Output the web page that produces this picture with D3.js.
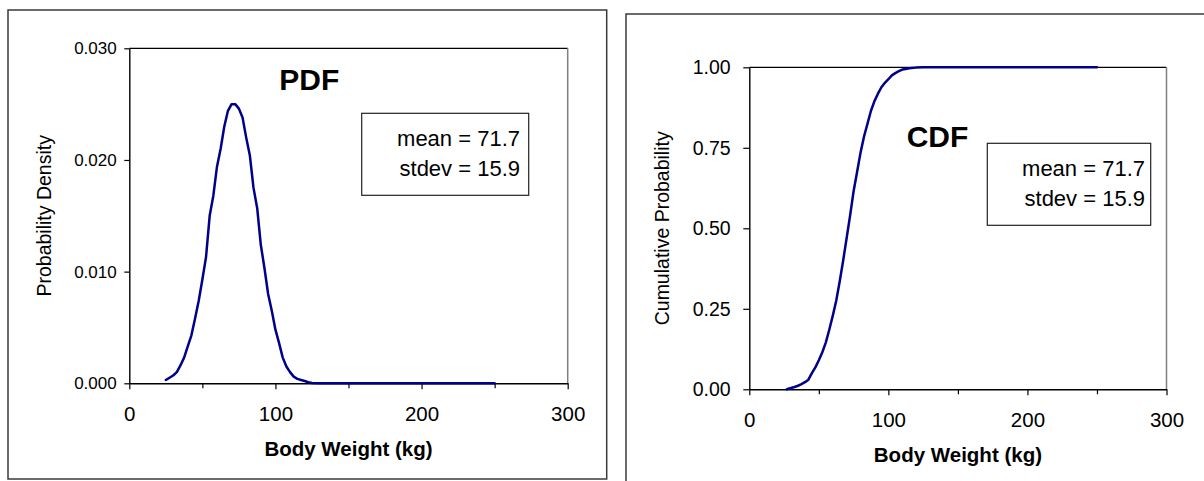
<!DOCTYPE html>
<html>
<head>
<meta charset="utf-8">
<script src="https://cdn.jsdelivr.net/npm/d3@7"></script>
<style>
  html, body { margin: 0; padding: 0; background: #fff; }
  svg { display: block; }
  text { font-family: "Liberation Sans", Arial, sans-serif; fill: #000; }
</style>
</head>
<body>
<svg id="chart" width="1204" height="481"></svg>
<script>
// ---------------- data ----------------
const pdfWeights = [25, 27.5, 30, 32.5, 35, 37.5, 40, 42.5, 45, 47.5, 50, 52.5, 55, 57.5, 60, 62.5, 65, 67.5, 70, 72.5, 75, 77.5, 80, 82.5, 85, 87.5, 90, 92.5, 95, 97.5, 100, 102.5, 105, 107.5, 110, 112.5, 115, 117.5, 120, 122.5, 125, 130, 150, 200, 250];
const pdfDensity = [0.0003, 0.0005, 0.0007, 0.0010, 0.0016, 0.0023, 0.0033, 0.0043, 0.0058, 0.0074, 0.0093, 0.0113, 0.0150, 0.0168, 0.0194, 0.0210, 0.0230, 0.0244, 0.0250, 0.0250, 0.0246, 0.0238, 0.0220, 0.0204, 0.0175, 0.0157, 0.0124, 0.0103, 0.0080, 0.0065, 0.0048, 0.0036, 0.0023, 0.0015, 0.0010, 0.0006, 0.0004, 0.0003, 0.0002, 0.0001, 0.00003, 0, 0, 0, 0];

const cdfWeights = [27, 30, 32.5, 35, 37.5, 40, 42.5, 45, 47.5, 50, 52.5, 55, 57.5, 60, 62.5, 65, 67.5, 70, 72.5, 75, 77.5, 80, 82.5, 85, 87.5, 90, 92.5, 95, 97.5, 100, 102.5, 105, 107.5, 110, 112.5, 115, 120, 125, 150, 200, 250];
const cdfProb = [0.000, 0.004, 0.007, 0.011, 0.016, 0.022, 0.030, 0.050, 0.068, 0.090, 0.115, 0.145, 0.185, 0.228, 0.275, 0.335, 0.400, 0.470, 0.540, 0.615, 0.675, 0.735, 0.785, 0.825, 0.865, 0.895, 0.918, 0.938, 0.952, 0.963, 0.975, 0.982, 0.988, 0.993, 0.995, 0.997, 0.999, 1.000, 1.000, 1.000, 1.000];

const xMajorTicks = [0, 100, 200, 300];
const xMinorTicks = [50, 150, 250];
const pdfYTicks = [0, 0.010, 0.020, 0.030];
const cdfYTicks = [0, 0.25, 0.50, 0.75, 1.00];
const statLabels = ["mean = 71.7", "stdev = 15.9"];
const xTitle = "Body Weight (kg)";

// ---------------- drawing ----------------
const svg = d3.select("#chart");
svg.append("rect").attr("width", 1204).attr("height", 481).attr("fill", "#fff");

const lineColor = "#00008b";

function panel(cfg) {
  const g = svg.append("g");
  // outer chart border
  g.append("path").attr("d", cfg.border)
    .attr("fill", "none").attr("stroke", "#3a3a3a").attr("stroke-width", 1.5);

  const x = d3.scaleLinear().domain([0, 300]).range([cfg.left, cfg.right]);
  const y = d3.scaleLinear().domain(cfg.yDomain).range([cfg.bottom, cfg.top]);

  // plot area frame: top black, right gray
  g.append("line").attr("x1", cfg.left).attr("x2", cfg.right).attr("y1", cfg.top).attr("y2", cfg.top)
    .attr("stroke", "#000").attr("stroke-width", 1.2);
  g.append("line").attr("x1", cfg.right).attr("x2", cfg.right).attr("y1", cfg.top).attr("y2", cfg.bottom)
    .attr("stroke", "#808080").attr("stroke-width", 1.5);

  // minor x ticks
  g.append("g").attr("transform", `translate(0,${cfg.bottom})`)
    .call(d3.axisBottom(x).tickValues(xMinorTicks).tickSize(5).tickSizeOuter(0).tickFormat(""))
    .call(s => s.select(".domain").remove())
    .call(s => s.selectAll("line").attr("stroke", "#000").attr("stroke-width", 1.2));

  // major x axis
  const xa = g.append("g").attr("transform", `translate(0,${cfg.bottom})`)
    .call(d3.axisBottom(x).tickValues(xMajorTicks).tickSize(6).tickSizeOuter(0).tickFormat(d3.format("d")));
  xa.select(".domain").attr("stroke", "#000").attr("stroke-width", 1.4);
  xa.selectAll("line").attr("stroke", "#000").attr("stroke-width", 1.2);
  xa.selectAll("text").attr("y", cfg.xLabelDy).attr("dy", null)
    .style("font-family", '"Liberation Sans", Arial, sans-serif')
    .style("font-size", "20.5px").attr("fill", "#000");

  // y axis
  const ya = g.append("g").attr("transform", `translate(${cfg.left},0)`)
    .call(d3.axisLeft(y).tickValues(cfg.yTicks).tickSize(cfg.yTickSize).tickSizeOuter(0)
      .tickPadding(cfg.yPad).tickFormat(d3.format(cfg.yFormat)));
  ya.select(".domain").attr("stroke", "#000").attr("stroke-width", 1.4);
  ya.selectAll("line").attr("stroke", "#000").attr("stroke-width", 1.2);
  ya.selectAll("text")
    .style("font-family", '"Liberation Sans", Arial, sans-serif')
    .style("font-size", cfg.yFont).attr("fill", "#000");

  // data line
  const line = d3.line().x(d => x(d[0])).y(d => y(d[1]));
  g.append("path").datum(cfg.xs.map((v, i) => [v, cfg.ys[i]]))
    .attr("d", line).attr("fill", "none").attr("stroke", lineColor)
    .attr("stroke-width", 2.5).attr("stroke-linejoin", "round").attr("stroke-linecap", "round");

  // big label
  g.append("text").attr("x", cfg.bigLabel.x).attr("y", cfg.bigLabel.y)
    .style("font-size", "30px").style("font-weight", "bold").text(cfg.bigLabel.text);

  // stats box
  const b = cfg.box;
  g.append("rect").attr("x", b.x).attr("y", b.y).attr("width", b.w).attr("height", b.h)
    .attr("fill", "#fff").attr("stroke", "#222").attr("stroke-width", 1.2);
  statLabels.forEach((t, i) => {
    g.append("text").attr("x", b.textRight).attr("y", b.base + i * 30)
      .attr("text-anchor", "end").style("font-size", "22px").text(t);
  });

  // axis titles
  g.append("text").attr("x", (cfg.left + cfg.right) / 2).attr("y", cfg.xTitleY)
    .attr("text-anchor", "middle").style("font-size", "20.5px").style("font-weight", "bold").text(xTitle);
  g.append("text")
    .attr("transform", `translate(${cfg.yTitleX},${(cfg.top + cfg.bottom) / 2}) rotate(-90)`)
    .attr("text-anchor", "middle").style("font-size", "19.5px").text(cfg.yTitle);
}

panel({
  border: "M8,10 H606.7 V479 H8 Z",
  left: 129.3, right: 567.7, top: 48.3, bottom: 383.3,
  yDomain: [0, 0.030], yTicks: pdfYTicks, yFormat: ".3f", yTickSize: 5, yPad: 7.6, yFont: "17px",
  xLabelDy: 37.5,
  xs: pdfWeights, ys: pdfDensity,
  bigLabel: { x: 279.3, y: 90, text: "PDF" },
  box: { x: 361.7, y: 113.3, w: 167, h: 82, textRight: 520, base: 146 },
  xTitleY: 456, yTitleX: 51, yTitle: "Probability Density"
});

panel({
  border: "M1210,14 H626 V490",
  left: 749.3, right: 1166.5, top: 67.3, bottom: 389.3,
  yDomain: [0, 1], yTicks: cdfYTicks, yFormat: ".2f", yTickSize: 6, yPad: 12.6, yFont: "19.5px",
  xLabelDy: 38,
  xs: cdfWeights, ys: cdfProb,
  bigLabel: { x: 906.7, y: 146.7, text: "CDF" },
  box: { x: 987.3, y: 143.3, w: 163.4, h: 82, textRight: 1145, base: 176 },
  xTitleY: 462, yTitleX: 669, yTitle: "Cumulative Probability"
});
</script>
</body>
</html>
